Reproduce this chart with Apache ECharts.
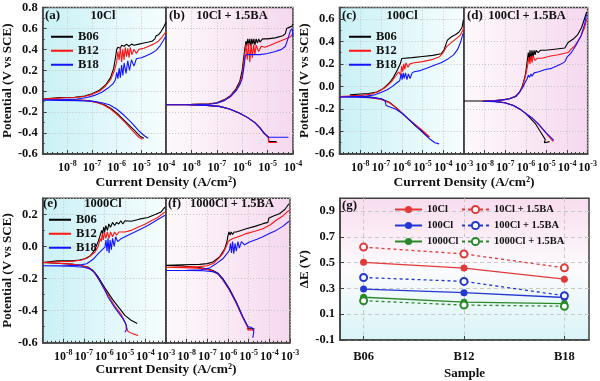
<!DOCTYPE html>
<html><head><meta charset="utf-8">
<script src="https://cdn.jsdelivr.net/npm/echarts@6/dist/echarts.min.js"></script>
<style>html,body{margin:0;padding:0;background:#fff}#c{width:600px;height:381px}</style>
</head><body><div id="c"></div>
<script>
// ---------- DATA (x = log10 of current density, y = potential V) ----------
const curveNames = ['B06','B12','B18'];
const panelTitles = ['10Cl','10Cl + 1.5BA','100Cl','100Cl + 1.5BA','1000Cl','1000Cl + 1.5BA'];
const panelLetters = ['(a)','(b)','(c)','(d)','(e)','(f)','(g)'];

const a_B06 = [[-4.9,-0.45],[-5.05,-0.43],[-5.3,-0.37],[-5.6,-0.3],[-5.9,-0.23],[-6.2,-0.17],[-6.5,-0.13],[-6.8,-0.105],[-7.2,-0.09],[-7.8,-0.082],[-8.4,-0.078],[-9,-0.075],
 [-9,-0.06],[-8.3,-0.06],[-7.7,-0.057],[-7.3,-0.045],[-7.0,-0.025],[-6.7,0.01],[-6.45,0.06],[-6.25,0.13],[-6.12,0.22],[-6.05,0.32],[-6.0,0.4],[-5.95,0.42],[-5.85,0.41],[-5.8,0.44],[-5.7,0.43],[-5.6,0.45],[-5.5,0.43],[-5.4,0.45],[-5.3,0.44],[-5.1,0.45],[-4.9,0.46],[-4.7,0.47],[-4.55,0.48],[-4.45,0.5],[-4.4,0.53],[-4.3,0.54],[-4.2,0.57],[-4.1,0.61],[-4.0,0.66]];
const a_B12 = [[-4.95,-0.46],[-5.1,-0.44],[-5.35,-0.38],[-5.65,-0.3],[-5.95,-0.23],[-6.25,-0.17],[-6.55,-0.13],[-6.85,-0.105],[-7.2,-0.09],[-7.8,-0.082],[-8.4,-0.078],[-9,-0.075],
 [-9,-0.065],[-8.3,-0.065],[-7.7,-0.06],[-7.3,-0.05],[-7.0,-0.03],[-6.7,0.0],[-6.45,0.05],[-6.25,0.11],[-6.1,0.19],[-6.0,0.28],[-5.95,0.38],[-5.9,0.3],[-5.85,0.42],[-5.8,0.28],[-5.75,0.4],[-5.7,0.3],[-5.65,0.42],[-5.6,0.33],[-5.55,0.41],[-5.5,0.32],[-5.45,0.42],[-5.38,0.35],[-5.3,0.4],[-5.2,0.36],[-5.1,0.4],[-4.9,0.41],[-4.7,0.43],[-4.5,0.45],[-4.3,0.48],[-4.15,0.52],[-4.0,0.57]];
const a_B18 = [[-4.72,-0.45],[-4.85,-0.43],[-5.1,-0.38],[-5.4,-0.3],[-5.7,-0.23],[-6.0,-0.17],[-6.3,-0.13],[-6.6,-0.11],[-7.0,-0.095],[-7.6,-0.09],[-8.3,-0.088],[-9,-0.085],
 [-9,-0.08],[-8.2,-0.08],[-7.6,-0.075],[-7.2,-0.06],[-6.9,-0.04],[-6.6,-0.01],[-6.35,0.03],[-6.15,0.07],[-6.05,0.11],[-6.0,0.18],[-5.95,0.12],[-5.9,0.22],[-5.85,0.13],[-5.8,0.25],[-5.75,0.15],[-5.7,0.27],[-5.62,0.17],[-5.55,0.29],[-5.48,0.2],[-5.4,0.3],[-5.3,0.24],[-5.2,0.31],[-5.0,0.32],[-4.8,0.34],[-4.6,0.36],[-4.4,0.39],[-4.25,0.43],[-4.12,0.48],[-4.0,0.53]];

const b_B06 = [[-4.65,-0.48],[-4.95,-0.48],[-4.97,-0.44],[-5.1,-0.41],[-5.3,-0.35],[-5.5,-0.3],[-5.8,-0.25],[-6.1,-0.21],[-6.5,-0.17],[-6.9,-0.145],[-7.4,-0.135],[-8.2,-0.13],[-9,-0.13],
 [-9,-0.125],[-8,-0.125],[-7.3,-0.12],[-7.0,-0.11],[-6.7,-0.08],[-6.45,-0.04],[-6.25,0.02],[-6.1,0.09],[-6.0,0.2],[-5.95,0.3],[-5.9,0.4],[-5.85,0.48],[-5.82,0.43],[-5.78,0.5],[-5.74,0.44],[-5.7,0.5],[-5.66,0.43],[-5.62,0.5],[-5.58,0.45],[-5.54,0.5],[-5.5,0.44],[-5.45,0.5],[-5.4,0.46],[-5.35,0.5],[-5.3,0.47],[-5.2,0.5],[-5.0,0.5],[-4.7,0.51],[-4.4,0.53],[-4.3,0.55],[-4.25,0.6],[-4.15,0.61],[-4.05,0.62],[-4.0,0.64]];
const b_B12 = [[-4.62,-0.49],[-4.95,-0.49],[-4.98,-0.44],[-5.1,-0.41],[-5.3,-0.35],[-5.5,-0.3],[-5.8,-0.25],[-6.1,-0.21],[-6.5,-0.17],[-6.9,-0.145],[-7.4,-0.135],[-8.2,-0.13],[-9,-0.13],
 [-9,-0.128],[-8,-0.128],[-7.3,-0.122],[-7.0,-0.112],[-6.7,-0.085],[-6.45,-0.045],[-6.25,0.01],[-6.1,0.07],[-6.0,0.15],[-5.95,0.25],[-5.9,0.35],[-5.85,0.45],[-5.8,0.3],[-5.75,0.46],[-5.7,0.28],[-5.65,0.45],[-5.6,0.32],[-5.55,0.44],[-5.5,0.35],[-5.45,0.44],[-5.35,0.38],[-5.25,0.43],[-5.1,0.42],[-4.9,0.44],[-4.6,0.47],[-4.3,0.5],[-4.1,0.52],[-4.0,0.55]];
const b_B18 = [[-4.18,-0.44],[-4.95,-0.44],[-5.0,-0.43],[-5.15,-0.4],[-5.3,-0.35],[-5.5,-0.3],[-5.8,-0.25],[-6.1,-0.21],[-6.5,-0.17],[-6.9,-0.145],[-7.4,-0.135],[-8.2,-0.13],[-9,-0.13],
 [-9,-0.13],[-8,-0.13],[-7.3,-0.125],[-7.0,-0.115],[-6.7,-0.09],[-6.45,-0.05],[-6.25,0.0],[-6.1,0.06],[-6.0,0.12],[-5.92,0.25],[-5.88,0.33],[-5.85,0.35],[-5.6,0.35],[-5.3,0.35],[-5.0,0.36],[-4.7,0.38],[-4.45,0.4],[-4.3,0.43],[-4.2,0.5],[-4.1,0.58],[-4.03,0.6],[-4.0,0.52]];

const c_B06 = [[-4.7,-0.45],[-5.0,-0.4],[-5.4,-0.34],[-5.8,-0.27],[-6.2,-0.2],[-6.6,-0.14],[-7.0,-0.11],[-7.5,-0.095],[-8.0,-0.085],[-8.5,-0.075],
 [-8.5,-0.068],[-8.0,-0.068],[-7.6,-0.063],[-7.2,-0.05],[-6.9,-0.02],[-6.6,0.03],[-6.4,0.08],[-6.2,0.15],[-6.07,0.2],[-6.0,0.248],[-5.5,0.255],[-5.0,0.265],[-4.5,0.275],[-4.1,0.29],[-3.95,0.33],[-3.8,0.41],[-3.6,0.44],[-3.4,0.46],[-3.25,0.48],[-3.1,0.52],[-3.03,0.59]];
const c_B12 = [[-4.65,-0.45],[-5.0,-0.39],[-5.4,-0.33],[-5.8,-0.27],[-6.2,-0.2],[-6.6,-0.145],[-7.0,-0.115],[-7.5,-0.1],[-8.2,-0.092],[-9,-0.09],
 [-9,-0.085],[-8.5,-0.085],[-8,-0.08],[-7.5,-0.07],[-7.1,-0.045],[-6.8,-0.01],[-6.5,0.04],[-6.3,0.09],[-6.15,0.13],[-6.05,0.1],[-6.0,0.18],[-5.95,0.13],[-5.9,0.2],[-5.85,0.15],[-5.8,0.21],[-5.7,0.17],[-5.6,0.2],[-5.4,0.21],[-5.0,0.22],[-4.6,0.235],[-4.2,0.26],[-4.0,0.3],[-3.85,0.35],[-3.6,0.39],[-3.4,0.42],[-3.2,0.45],[-3.05,0.5],[-3.0,0.53]];
const c_B18 = [[-4.2,-0.51],[-4.4,-0.5],[-4.7,-0.46],[-5.1,-0.39],[-5.5,-0.32],[-5.9,-0.25],[-6.3,-0.2],[-6.6,-0.18],[-6.75,-0.17],[-6.8,-0.13],[-7.0,-0.11],[-7.5,-0.1],[-8.2,-0.095],[-9,-0.095],
 [-9,-0.09],[-8.3,-0.09],[-7.7,-0.085],[-7.3,-0.075],[-7.0,-0.055],[-6.7,-0.03],[-6.45,0.0],[-6.25,0.03],[-6.1,0.05],[-6.02,0.11],[-5.98,0.06],[-5.93,0.12],[-5.88,0.07],[-5.82,0.12],[-5.75,0.06],[-5.68,0.11],[-5.6,0.07],[-5.5,0.12],[-5.4,0.13],[-5.1,0.14],[-4.8,0.16],[-4.4,0.19],[-4.1,0.21],[-3.8,0.24],[-3.5,0.28],[-3.3,0.33],[-3.15,0.4],[-3.05,0.47]];

const d_B06 = [[-4.85,-0.49],[-4.85,-0.505],[-5.1,-0.5],[-5.06,-0.47],[-5.3,-0.4],[-5.54,-0.33],[-5.8,-0.28],[-6.01,-0.24],[-6.3,-0.2],[-6.6,-0.17],[-7.0,-0.145],[-7.5,-0.133],[-8.2,-0.13],[-9,-0.13],
 [-9,-0.127],[-8,-0.127],[-7.5,-0.125],[-7.13,-0.12],[-6.8,-0.11],[-6.49,-0.09],[-6.3,-0.05],[-6.18,-0.003],[-6.08,0.06],[-6.01,0.115],[-5.93,0.23],[-5.88,0.3],[-5.84,0.22],[-5.8,0.32],[-5.75,0.24],[-5.7,0.32],[-5.65,0.26],[-5.6,0.32],[-5.55,0.28],[-5.5,0.32],[-5.4,0.3],[-5.3,0.32],[-5.06,0.32],[-4.6,0.33],[-4.11,0.34],[-3.95,0.39],[-3.7,0.42],[-3.48,0.46],[-3.3,0.52],[-3.19,0.58],[-3.05,0.66]];
const d_B12 = [[-4.67,-0.49],[-4.75,-0.475],[-5.0,-0.42],[-5.38,-0.34],[-5.7,-0.28],[-6.01,-0.24],[-6.3,-0.2],[-6.6,-0.17],[-7.0,-0.145],[-7.5,-0.133],[-8.1,-0.13],
 [-8.1,-0.127],[-7.5,-0.125],[-7.1,-0.12],[-6.8,-0.11],[-6.5,-0.085],[-6.3,-0.05],[-6.15,0.0],[-6.05,0.07],[-5.97,0.13],[-5.9,0.2],[-5.85,0.26],[-5.8,0.2],[-5.75,0.27],[-5.7,0.21],[-5.65,0.27],[-5.55,0.23],[-5.45,0.25],[-5.22,0.25],[-4.8,0.27],[-4.43,0.28],[-3.95,0.3],[-3.8,0.33],[-3.63,0.36],[-3.45,0.41],[-3.32,0.45],[-3.15,0.52],[-3.05,0.6]];
const d_B18 = [[-4.64,-0.48],[-4.72,-0.465],[-5.0,-0.415],[-5.38,-0.335],[-5.7,-0.28],[-6.01,-0.24],[-6.3,-0.2],[-6.6,-0.17],[-7.0,-0.147],[-7.5,-0.135],[-8.1,-0.132],
 [-8.1,-0.13],[-7.5,-0.128],[-7.1,-0.12],[-6.8,-0.11],[-6.5,-0.09],[-6.3,-0.05],[-6.15,-0.01],[-6.02,0.04],[-5.93,0.07],[-5.88,0.1],[-5.82,0.08],[-5.75,0.11],[-5.7,0.09],[-5.6,0.12],[-5.38,0.13],[-5.05,0.15],[-4.75,0.16],[-4.5,0.18],[-4.27,0.2],[-4.1,0.22],[-4.0,0.26],[-3.79,0.3],[-3.55,0.37],[-3.32,0.45],[-3.15,0.55],[-3.05,0.64]];

const e_B06 = [[-4.4,-0.48],[-4.7,-0.46],[-5.0,-0.43],[-5.3,-0.38],[-5.6,-0.33],[-5.97,-0.26],[-6.3,-0.19],[-6.55,-0.15],[-6.8,-0.128],[-7.2,-0.118],[-7.6,-0.11],[-8.3,-0.105],[-9,-0.1],
 [-9,-0.09],[-8.3,-0.09],[-7.58,-0.09],[-7.2,-0.085],[-6.94,-0.077],[-6.7,-0.06],[-6.54,-0.035],[-6.4,0.0],[-6.3,0.03],[-6.2,0.07],[-6.13,0.1],[-6.08,0.08],[-6.03,0.12],[-5.98,0.09],[-5.93,0.13],[-5.85,0.1],[-5.78,0.14],[-5.7,0.12],[-5.6,0.15],[-5.5,0.13],[-5.4,0.15],[-5.3,0.14],[-5.2,0.16],[-5.1,0.14],[-5.0,0.16],[-4.69,0.157],[-4.3,0.17],[-3.88,0.18],[-3.5,0.2],[-3.24,0.215],[-3.05,0.245]];
const e_B12 = [[-4.36,-0.555],[-4.6,-0.545],[-4.85,-0.53],[-5.0,-0.47],[-5.2,-0.42],[-5.5,-0.37],[-5.97,-0.27],[-6.3,-0.2],[-6.55,-0.155],[-6.8,-0.13],[-7.2,-0.118],[-7.6,-0.11],[-8.3,-0.105],[-9,-0.1],
 [-9,-0.095],[-8.3,-0.095],[-7.6,-0.093],[-7.1,-0.085],[-6.8,-0.07],[-6.6,-0.05],[-6.45,-0.035],[-6.3,0.0],[-6.2,0.05],[-6.15,0.03],[-6.1,0.08],[-6.05,0.04],[-6.0,0.09],[-5.93,0.05],[-5.85,0.09],[-5.77,0.05],[-5.7,0.09],[-5.6,0.06],[-5.5,0.09],[-5.4,0.07],[-5.3,0.09],[-5.0,0.09],[-4.7,0.1],[-4.36,0.12],[-4.0,0.14],[-3.72,0.16],[-3.4,0.18],[-3.05,0.215]];
const e_B18 = [[-5.0,-0.535],[-4.93,-0.52],[-4.93,-0.49],[-5.1,-0.45],[-5.5,-0.38],[-5.8,-0.32],[-5.97,-0.275],[-6.2,-0.22],[-6.45,-0.165],[-6.7,-0.14],[-7.0,-0.13],[-7.5,-0.125],[-8.2,-0.122],[-9,-0.12],
 [-9,-0.12],[-8,-0.12],[-7.3,-0.118],[-6.86,-0.108],[-6.54,-0.08],[-6.3,-0.045],[-6.1,-0.02],[-5.97,-0.004],[-5.92,0.04],[-5.87,-0.03],[-5.82,0.05],[-5.77,-0.04],[-5.72,0.04],[-5.66,-0.02],[-5.6,0.05],[-5.52,0.0],[-5.45,0.06],[-5.35,0.03],[-5.17,0.05],[-4.85,0.07],[-4.52,0.09],[-4.2,0.11],[-3.88,0.13],[-3.5,0.16],[-3.05,0.194]];

const f_B06 = [[-4.72,-0.513],[-5.04,-0.513],[-5.04,-0.5],[-5.28,-0.44],[-5.6,-0.346],[-5.93,-0.264],[-6.25,-0.2],[-6.5,-0.165],[-6.73,-0.15],[-7.0,-0.14],[-7.5,-0.13],[-8.2,-0.122],[-9,-0.118],
 [-9,-0.114],[-8.2,-0.114],[-7.37,-0.112],[-7.0,-0.107],[-6.73,-0.097],[-6.41,-0.066],[-6.16,-0.014],[-6.05,0.03],[-6.0,0.069],[-5.95,0.09],[-5.9,0.07],[-5.85,0.09],[-5.78,0.075],[-5.7,0.09],[-5.6,0.09],[-5.12,0.11],[-4.7,0.125],[-4.31,0.142],[-4.07,0.15],[-4.03,0.175],[-3.8,0.19],[-3.51,0.204],[-3.25,0.23],[-3.05,0.266]];
const f_B12 = [[-4.72,-0.52],[-5.04,-0.52],[-5.06,-0.5],[-5.3,-0.44],[-5.62,-0.35],[-5.95,-0.268],[-6.27,-0.205],[-6.5,-0.17],[-6.75,-0.153],[-7.0,-0.143],[-7.5,-0.135],[-8.2,-0.132],[-9,-0.13],
 [-9,-0.128],[-8.2,-0.128],[-7.4,-0.126],[-7.0,-0.12],[-6.7,-0.105],[-6.45,-0.075],[-6.25,-0.045],[-6.1,-0.005],[-6.0,0.028],[-5.9,0.04],[-5.76,0.05],[-5.4,0.065],[-5.12,0.08],[-4.7,0.095],[-4.31,0.11],[-3.95,0.135],[-3.67,0.163],[-3.35,0.19],[-3.05,0.225]];
const f_B18 = [[-4.8,-0.57],[-4.75,-0.56],[-4.75,-0.53],[-4.85,-0.505],[-5.04,-0.5],[-5.28,-0.44],[-5.6,-0.35],[-5.93,-0.27],[-6.25,-0.205],[-6.5,-0.17],[-6.73,-0.157],[-7.2,-0.152],[-8,-0.15],[-9,-0.15],
 [-9,-0.148],[-8,-0.148],[-7.3,-0.145],[-6.9,-0.135],[-6.6,-0.11],[-6.25,-0.077],[-6.05,-0.045],[-5.93,-0.024],[-5.88,0.02],[-5.83,-0.04],[-5.78,0.03],[-5.72,-0.045],[-5.66,0.02],[-5.6,-0.03],[-5.52,0.03],[-5.45,-0.01],[-5.35,0.03],[-5.2,0.01],[-4.96,0.028],[-4.6,0.045],[-4.31,0.06],[-4.0,0.08],[-3.67,0.1],[-3.35,0.125],[-3.05,0.157]];

// panel (g): ΔE (V) per sample
const samples = ['B06','B12','B18'];
const g_names = ['10Cl','100Cl','1000Cl','10Cl + 1.5BA','100Cl + 1.5BA','1000Cl + 1.5BA'];
const g_10Cl = [0.503,0.458,0.372];
const g_100Cl = [0.295,0.267,0.230];
const g_1000Cl = [0.232,0.194,0.182];
const g_10Cl_BA = [0.621,0.568,0.460];
const g_100Cl_BA = [0.385,0.355,0.244];
const g_1000Cl_BA = [0.205,0.171,0.162];
const gTicks = [-0.1,0.1,0.3,0.5,0.7,0.9];

// ---------- CHART ----------
const FONT = '"Liberation Serif","Times New Roman",serif';
const AX = '#404040';
const curveColors = ['#000000','#ff1414','#1414ff'];
const panels = [[a_B06,a_B12,a_B18],[b_B06,b_B12,b_B18],[c_B06,c_B12,c_B18],[d_B06,d_B12,d_B18],[e_B06,e_B12,e_B18],[f_B06,f_B12,f_B18]];
const panelRange = [
  {xmin:-9,xmax:-4,ymin:-0.6,ymax:0.8},{xmin:-9,xmax:-4,ymin:-0.6,ymax:0.8},
  {xmin:-9,xmax:-3,ymin:-0.6,ymax:0.7},{xmin:-9,xmax:-3,ymin:-0.6,ymax:0.7},
  {xmin:-9,xmax:-3,ymin:-0.6,ymax:0.3},{xmin:-9,xmax:-3,ymin:-0.6,ymax:0.3}
];
const gridBoxes = [
  {left:42,top:7.5,width:124,height:146.5},
  {left:166,top:7.5,width:127,height:146.5},
  {left:339.5,top:7.5,width:124.5,height:146.5},
  {left:464,top:7.5,width:126,height:146.5},
  {left:42,top:198.3,width:124,height:144.4},
  {left:166,top:198.3,width:124,height:144.4},
  {left:340,top:198.3,width:249,height:144.4}
];
const cyanBg = {type:'linear',x:0,y:0,x2:1,y2:0,colorStops:[{offset:0,color:'#c9f1f6'},{offset:1,color:'#f7fdfe'}]};
const pinkBg = {type:'linear',x:0,y:0,x2:1,y2:0,colorStops:[{offset:0,color:'#fdf9fc'},{offset:1,color:'#f6d8ee'}]};
const gBg = {type:'linear',x:0,y:0,x2:0,y2:1,colorStops:[{offset:0,color:'#f8dcee'},{offset:0.5,color:'#fdfbfd'},{offset:1,color:'#d8f4f7'}]};
const bgs = [cyanBg,pinkBg,cyanBg,pinkBg,cyanBg,pinkBg,gBg];

const grid = gridBoxes.map((g,i)=>Object.assign({show:true,backgroundColor:bgs[i],borderColor:AX,borderWidth:1.5},g));

const supRich = {
  b:{fontFamily:FONT,fontWeight:'bold',fontSize:12,color:'#111'},
  s:{fontFamily:FONT,fontWeight:'bold',fontSize:8,color:'#111',padding:[0,0,8,0]}
};
const xAxis = [], yAxis = [], series = [];
panels.forEach((curves,p)=>{
  const r = panelRange[p];
  xAxis.push({type:'value',gridIndex:p,min:r.xmin,max:r.xmax,interval:1,
    axisLine:{show:true,onZero:false,lineStyle:{color:AX,width:1.5}},
    axisTick:{show:true,inside:true,length:4,lineStyle:{color:AX}},
    minorTick:{show:true,splitNumber:5,length:2,lineStyle:{color:AX}},
    splitLine:{show:true,lineStyle:{color:'#c4c4c4',type:[1,2],width:1}},
    axisLabel:{showMinLabel:false,margin:6,formatter:v=>'{b|10}{s|'+Math.round(v)+'}',rich:supRich}
  });
  const left = (p%2===0);
  yAxis.push({type:'value',gridIndex:p,min:r.ymin,max:r.ymax,interval:0.2,
    name: left ? 'Potential (V vs SCE)' : '', nameLocation:'middle', nameGap:26,
    nameTextStyle:{fontFamily:FONT,fontWeight:'bold',fontSize:13,color:'#111'},
    axisLine:{show:true,onZero:false,lineStyle:{color:AX,width:1.5}},
    axisTick:{show:left,inside:true,length:4,lineStyle:{color:AX}},
    minorTick:{show:left,splitNumber:2,length:2,lineStyle:{color:AX}},
    splitLine:{show:true,lineStyle:{color:'#c4c4c4',type:[1,2],width:1}},
    axisLabel:{show:left,showMaxLabel:(r.ymax===0.8),margin:5,fontFamily:FONT,fontWeight:'bold',fontSize:12.5,color:'#111',
      formatter:v=>(Math.abs(v)<1e-9?0:v).toFixed(1)}
  });
  curves.forEach((d,k)=>{
    series.push({type:'line',name:curveNames[k],xAxisIndex:p,yAxisIndex:p,data:d,
      symbol:'none',showSymbol:false,lineStyle:{width:1.1,color:curveColors[k]},itemStyle:{color:curveColors[k]},
      z:2+k,animation:false,clip:true});
  });
});

// panel g axes
xAxis.push({type:'value',gridIndex:6,min:-0.235,max:2.245,
  axisLine:{show:true,onZero:false,lineStyle:{color:AX,width:1.5}},
  axisTick:{show:true,inside:true,length:4,customValues:[0,1,2],lineStyle:{color:AX}},
  splitLine:{show:true,lineStyle:{color:'#c8c8c8',type:[4,3]}},
  axisLabel:{customValues:[0,1,2],margin:10,fontFamily:FONT,fontWeight:'bold',fontSize:12.5,color:'#111',
    formatter:v=>samples[Math.round(v)]||''},
  name:'Sample',nameLocation:'middle',nameGap:27,nameTextStyle:{fontFamily:FONT,fontWeight:'bold',fontSize:13,color:'#111'}
});
yAxis.push({type:'value',gridIndex:6,min:-0.1,max:1.0,
  name:'ΔE (V)',nameLocation:'middle',nameGap:29,
  nameTextStyle:{fontFamily:FONT,fontWeight:'bold',fontSize:13,color:'#111'},
  axisLine:{show:true,onZero:false,lineStyle:{color:AX,width:1.5}},
  axisTick:{show:true,inside:true,length:4,customValues:gTicks,lineStyle:{color:AX}},
  splitLine:{show:true,lineStyle:{color:'#c8c8c8',type:[4,3]}},
  axisLabel:{customValues:gTicks,margin:5,fontFamily:FONT,fontWeight:'bold',fontSize:12.5,color:'#111',
    formatter:v=>v.toFixed(1)}
});
const gSets = [g_10Cl,g_100Cl,g_1000Cl,g_10Cl_BA,g_100Cl_BA,g_1000Cl_BA];
const gColors = ['#e03a3a','#2238d0','#2a8a2a','#e03a3a','#2238d0','#2a8a2a'];
gSets.forEach((vals,i)=>{
  const dashed = i>=3;
  series.push({type:'line',name:g_names[i],xAxisIndex:6,yAxisIndex:6,
    data:vals.map((v,j)=>[j,v]),
    symbol: dashed?'emptyCircle':'circle', symbolSize:7,
    lineStyle:{width:1.3,color:gColors[i],type:dashed?[3,3]:'solid'},
    itemStyle:{color:gColors[i],borderWidth:1.3},animation:false,z:5});
});

const legendText = {fontFamily:FONT,fontWeight:'bold',fontSize:12.5,color:'#111'};
const mkLegend = (left,top)=>({data:curveNames,orient:'vertical',left,top,icon:'rect',itemWidth:22,itemHeight:2,itemGap:0.5,
  textStyle:Object.assign({},legendText,{lineHeight:13.5}),selectedMode:false});
const gLegText = Object.assign({},legendText,{fontSize:10.5});
const legend = [
  mkLegend(46,25), mkLegend(344,25), mkLegend(44,208),
  {data:g_names.slice(0,3),orient:'vertical',left:389,top:199,itemWidth:27,itemHeight:9,itemGap:5,itemTextGap:3,textStyle:gLegText,selectedMode:false},
  {data:g_names.slice(3),orient:'vertical',left:456,top:199,itemWidth:27,itemHeight:9,itemGap:5,itemTextGap:3,textStyle:gLegText,selectedMode:false}
];

const txt = (x,y,text,align,size)=>({type:'text',x,y,z:100,style:{text,fill:'#111',font:'bold '+(size||13)+'px '+FONT,align:align||'left',verticalAlign:'middle'}});
const graphic = [
  txt(45,16,panelLetters[0]), txt(103,16,panelTitles[0],'center',12.5),
  txt(169,16,panelLetters[1]), txt(232,16,panelTitles[1],'center',12.5),
  txt(342,16,panelLetters[2]), txt(402,16,panelTitles[2],'center',12.5),
  txt(467,16,panelLetters[3]), txt(527,16,panelTitles[3],'center',12.5),
  txt(43,204,panelLetters[4]), txt(103,204,panelTitles[4],'center',12.5),
  txt(168,204,panelLetters[5]), txt(232,204,panelTitles[5],'center',12.5),
  txt(342,206,panelLetters[6]),
  txt(166,183,'Current Density (A/cm²)','center',13.5),
  txt(464,183,'Current Density (A/cm²)','center',13.5),
  txt(166,370,'Current Density (A/cm²)','center',13.5)
];

const chart = echarts.init(document.getElementById('c'),null,{renderer:'canvas'});
chart.setOption({animation:false,backgroundColor:'#fff',grid,xAxis,yAxis,series,legend,graphic});
</script></body></html>
